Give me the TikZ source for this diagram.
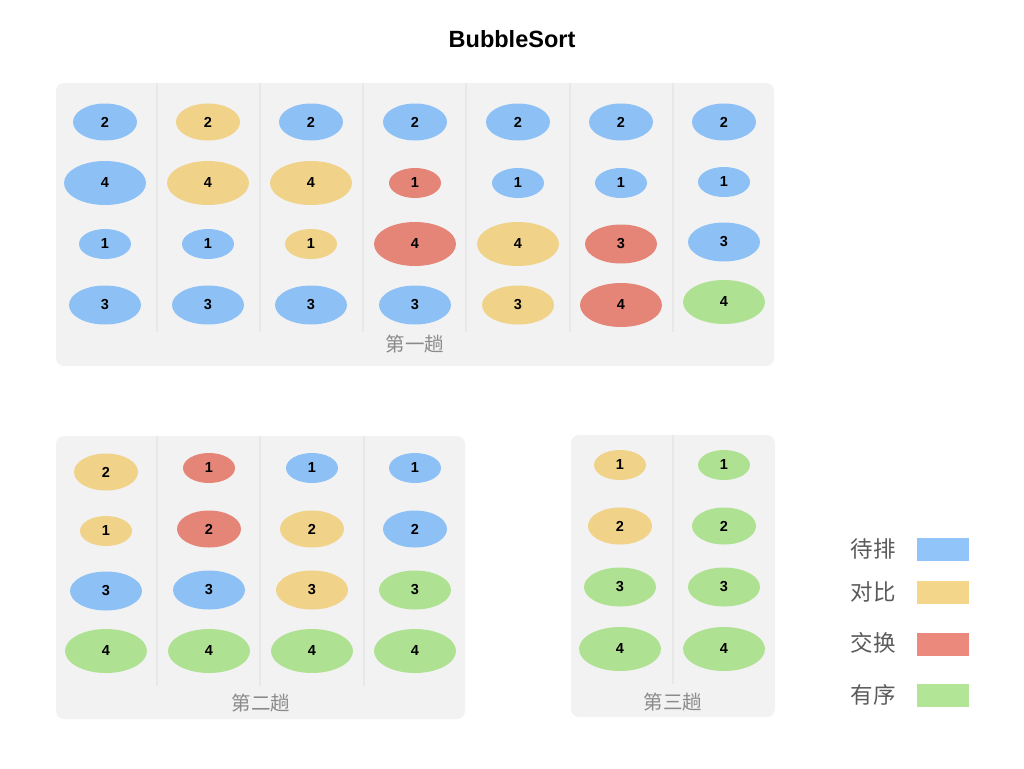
\documentclass[tikz,border=0pt]{standalone}
\usepackage{fontspec}
\setmainfont{Liberation Sans}
\newfontfamily\cjk{Noto Sans CJK SC}
\usetikzlibrary{shapes.geometric}
\definecolor{cbC}{HTML}{8DC0F5}
\definecolor{cyC}{HTML}{F0D289}
\definecolor{crC}{HTML}{E58577}
\definecolor{cgC}{HTML}{AFE193}
\definecolor{lbC}{HTML}{91C4F9}
\definecolor{lyC}{HTML}{F4D68B}
\definecolor{lrC}{HTML}{EB8A7C}
\definecolor{lgC}{HTML}{B3E597}
\definecolor{panelC}{HTML}{F2F2F2}
\definecolor{divC}{HTML}{E8E8E8}
\definecolor{capC}{HTML}{8A8A8A}
\definecolor{legC}{HTML}{5A5A5A}
\tikzset{
  bub/.style={ellipse, inner sep=0pt, font=\bfseries\fontsize{14.5}{14.5}\selectfont, text=black},
  s1/.style={bub, minimum width=52pt, minimum height=30pt},
  s2/.style={bub, minimum width=64pt, minimum height=37pt},
  s3/.style={bub, minimum width=72pt, minimum height=39pt},
  s4/.style={bub, minimum width=82pt, minimum height=44pt},
  cb/.style={fill=cbC}, cy/.style={fill=cyC}, cr/.style={fill=crC}, cg/.style={fill=cgC},
  panel/.style={fill=panelC, rounded corners=8pt},
  divider/.style={draw=divC, line width=1.5pt},
  passcap/.style={font=\cjk\fontsize{19.5}{19.5}\selectfont, text=capC},
  legtext/.style={font=\cjk\fontsize{22.5}{22.5}\selectfont, text=legC},
  swatch/.style={minimum width=52pt, minimum height=23pt, inner sep=0pt}
}
\newcommand{\bub}[5]{\node[s#4, #5] (#1) at (#2,#3) {#4};}
\begin{document}
\begin{tikzpicture}[x=1pt,y=-1pt]
\useasboundingbox (0,0) rectangle (1024,768);
\node[font=\bfseries\fontsize{23.5}{23.5}\selectfont] (title) at (512,39) {BubbleSort};
% panels
\fill[panel] (56,83) rectangle (774,366);
\fill[panel] (56,436) rectangle (465,719);
\fill[panel] (571,435) rectangle (775,717);
% dividers
\foreach \x in {157,260,363,466,570,673} \draw[divider] (\x,83) -- (\x,332);
\foreach \x in {157,260,364} \draw[divider] (\x,436) -- (\x,686);
\draw[divider] (673,435) -- (673,684);
% panel 1
\bub{a11}{105}{122}{2}{cb} \bub{a12}{105}{183}{4}{cb} \bub{a13}{105}{244}{1}{cb} \bub{a14}{105}{305}{3}{cb}
\bub{a21}{208}{122}{2}{cy} \bub{a22}{208}{183}{4}{cy} \bub{a23}{208}{244}{1}{cb} \bub{a24}{208}{305}{3}{cb}
\bub{a31}{311}{122}{2}{cb} \bub{a32}{311}{183}{4}{cy} \bub{a33}{311}{244}{1}{cy} \bub{a34}{311}{305}{3}{cb}
\bub{a41}{415}{122}{2}{cb} \bub{a42}{415}{183}{1}{cr} \bub{a43}{415}{244}{4}{cr} \bub{a44}{415}{305}{3}{cb}
\bub{a51}{518}{122}{2}{cb} \bub{a52}{518}{183}{1}{cb} \bub{a53}{518}{244}{4}{cy} \bub{a54}{518}{305}{3}{cy}
\bub{a61}{621}{122}{2}{cb} \bub{a62}{621}{183}{1}{cb} \bub{a63}{621}{244}{3}{cr} \bub{a64}{621}{305}{4}{cr}
\bub{a71}{724}{122}{2}{cb} \bub{a72}{724}{182}{1}{cb} \bub{a73}{724}{242}{3}{cb} \bub{a74}{724}{302}{4}{cg}
\node[passcap] (cap1) at (415,344) {第一趟};
% panel 2
\bub{b11}{106}{472}{2}{cy} \bub{b12}{106}{531}{1}{cy} \bub{b13}{106}{591}{3}{cb} \bub{b14}{106}{651}{4}{cg}
\bub{b21}{209}{468}{1}{cr} \bub{b22}{209}{529}{2}{cr} \bub{b23}{209}{590}{3}{cb} \bub{b24}{209}{651}{4}{cg}
\bub{b31}{312}{468}{1}{cb} \bub{b32}{312}{529}{2}{cy} \bub{b33}{312}{590}{3}{cy} \bub{b34}{312}{651}{4}{cg}
\bub{b41}{415}{468}{1}{cb} \bub{b42}{415}{529}{2}{cb} \bub{b43}{415}{590}{3}{cg} \bub{b44}{415}{651}{4}{cg}
\node[passcap] (cap2) at (261,703) {第二趟};
% panel 3
\bub{c11}{620}{465}{1}{cy} \bub{c12}{620}{526}{2}{cy} \bub{c13}{620}{587}{3}{cg} \bub{c14}{620}{649}{4}{cg}
\bub{c21}{724}{465}{1}{cg} \bub{c22}{724}{526}{2}{cg} \bub{c23}{724}{587}{3}{cg} \bub{c24}{724}{649}{4}{cg}
\node[passcap] (cap3) at (673,702) {第三趟};
% legend
\node[legtext] (l1) at (873,549) {待排}; \node[swatch, fill=lbC] (k1) at (943,549.5) {};
\node[legtext] (l2) at (873,592) {对比}; \node[swatch, fill=lyC] (k2) at (943,592) {};
\node[legtext] (l3) at (873,643) {交换}; \node[swatch, fill=lrC] (k3) at (943,644) {};
\node[legtext] (l4) at (873,695) {有序}; \node[swatch, fill=lgC] (k4) at (943,695) {};
\end{tikzpicture}
\end{document}
